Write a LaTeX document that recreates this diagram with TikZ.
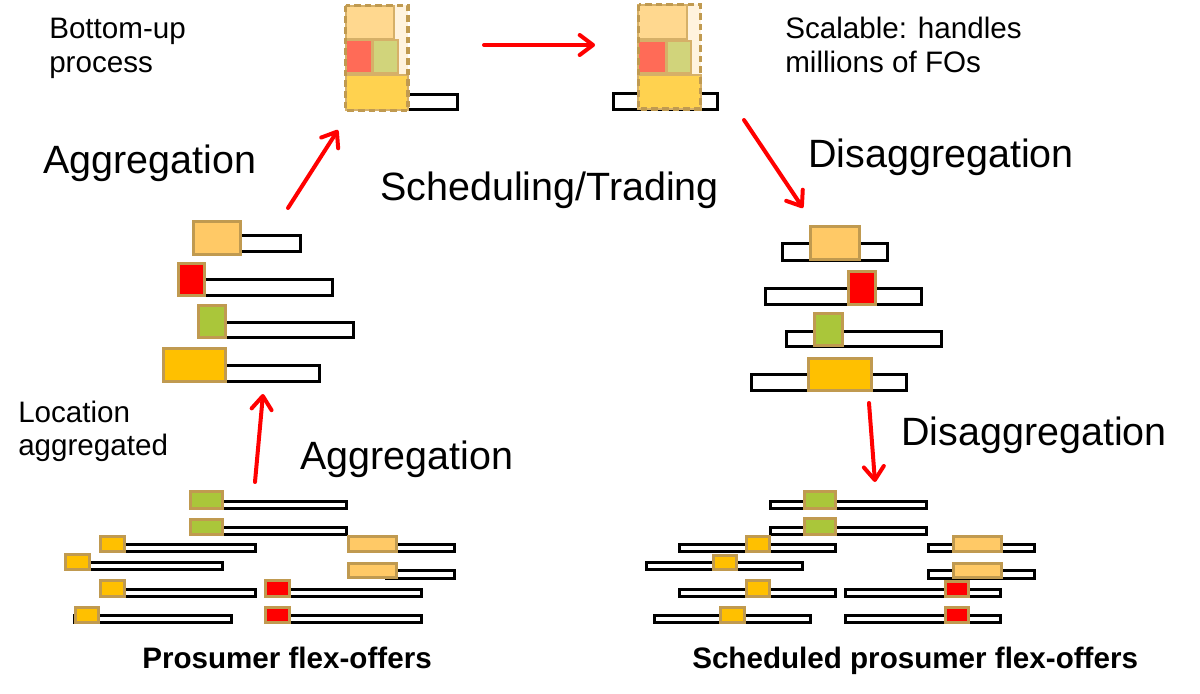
\documentclass[tikz,border=0pt]{standalone}
\usepackage{fontspec}
\setmainfont{Liberation Sans}
\usetikzlibrary{arrows.meta}
\definecolor{tanc}{RGB}{192,154,80}
\definecolor{tanl}{RGB}{214,176,104}
\definecolor{lorange}{RGB}{255,201,102}
\definecolor{fored}{RGB}{255,0,0}
\definecolor{fogreen}{RGB}{170,198,58}
\definecolor{amber}{RGB}{255,192,0}
\definecolor{tlorange}{RGB}{255,216,143}
\definecolor{tcream}{RGB}{255,243,222}
\definecolor{tred}{RGB}{255,107,87}
\definecolor{tgreen}{RGB}{209,212,123}
\definecolor{tamber}{RGB}{255,210,79}
\newcommand\fobar[4]{\draw[barst] (#1+1.6,#2+1.6) rectangle (#3-1.6,#4-1.6);}
\newcommand\fobox[5]{\draw[fost,fill=#5] (#1+1.6,#2+1.6) rectangle (#3-1.6,#4-1.6);}
\newcommand\tbox[5]{\draw[tst,fill=#5] (#1+1,#2+1) rectangle (#3-1,#4-1);}
\begin{document}
\begin{tikzpicture}[x=0.75pt,y=-0.75pt,
  barst/.style={draw=black,line width=2.5pt,fill=white},
  fost/.style={draw=tanc,line width=2.5pt},
  tst/.style={draw=tanl,line width=1.8pt},
  dashbox/.style={draw=tanc,line width=2.5pt,dash pattern=on 5pt off 3pt},
  flow/.style={draw=fored,line width=3pt,line cap=round,-{Straight Barb[length=10pt,width=15pt,round]}},
  big/.style={font=\fontsize{29.6}{34}\selectfont,anchor=base west,inner sep=0pt},
  small/.style={font=\fontsize{22.2}{26}\selectfont,anchor=base west,inner sep=0pt},
  boldlab/.style={font=\fontsize{22.2}{26}\selectfont\bfseries,anchor=base west,inner sep=0pt}]
\useasboundingbox (0,0) rectangle (1200,693);

% ---------- middle left ----------
\fobar{232}{234}{302}{253}
\fobox{192}{220}{242}{256}{lorange}
\fobar{195}{278}{334}{297}
\fobox{177}{262}{206}{297}{fored}
\fobar{217}{321}{355}{339}
\fobox{197}{304}{227}{339}{fogreen}
\fobar{216}{364}{321}{383}
\fobox{162}{347}{227}{383}{amber}

% ---------- middle right ----------
\fobar{781}{242}{889}{262}
\fobox{809}{225}{861}{261}{lorange}
\fobar{764}{287}{923}{306}
\fobox{847}{270}{877}{306}{fored}
\fobar{785}{330}{943}{348}
\fobox{813}{312}{844}{347}{fogreen}
\fobar{750}{373}{908}{392}
\fobox{807}{357}{873}{392}{amber}

% ---------- bottom left ----------
\fobar{210}{500}{348}{510}
\fobar{210}{526}{348}{536}
\fobar{115}{543}{257}{553}
\fobar{385}{543}{456}{553}
\fobar{80}{561}{224}{571}
\fobar{385}{569}{456}{580}
\fobar{115}{588}{257}{598}
\fobar{280}{588}{423}{598}
\fobar{73}{614}{233}{624}
\fobar{280}{614}{423}{624}
\fobox{189}{490}{224}{510}{fogreen}
\fobox{189}{518}{224}{536}{fogreen}
\fobox{99}{535}{126}{553}{amber}
\fobox{347}{535}{398}{553}{lorange}
\fobox{64}{553}{91}{571}{amber}
\fobox{347}{562}{398}{579}{lorange}
\fobox{99}{579}{126}{598}{amber}
\fobox{264}{579}{291}{598}{fored}
\fobox{74}{606}{100}{624}{amber}
\fobox{264}{606}{291}{624}{fored}

% ---------- bottom right ----------
\fobar{769}{500}{928}{510}
\fobar{769}{526}{928}{536}
\fobar{678}{543}{837}{553}
\fobar{927}{543}{1036}{553}
\fobar{645}{561}{804}{571}
\fobar{927}{569}{1036}{580}
\fobar{678}{588}{837}{598}
\fobar{844}{588}{1002}{598}
\fobar{653}{614}{812}{624}
\fobar{844}{614}{1002}{624}
\fobox{803}{490}{837}{510}{fogreen}
\fobox{803}{517}{837}{536}{fogreen}
\fobox{745}{535}{771}{553}{amber}
\fobox{952}{535}{1003}{553}{lorange}
\fobox{712}{554}{738}{571}{amber}
\fobox{745}{579}{771}{598}{amber}
\fobox{944}{580}{970}{598}{fored}
\fobox{952}{562}{1003}{579}{lorange}
\fobox{719}{606}{746}{624}{amber}
\fobox{944}{606}{970}{624}{fored}

% ---------- top left aggregate ----------
\fobar{400}{93}{459}{111}
\fill[tcream] (345,5) rectangle (408,110);
\tbox{345}{5}{395}{40}{tlorange}
\tbox{345}{39}{373}{74}{tred}
\tbox{372}{39}{399}{74}{tgreen}
\tbox{345}{74}{409}{111}{tamber}
\draw[dashbox] (345.5,5.5) rectangle (408,110.5);

% ---------- top right aggregate ----------
\fobar{612}{92}{719}{111}
\fill[tcream] (638,4) rectangle (701,109);
\tbox{637}{4}{688}{40}{tlorange}
\tbox{637}{40}{667}{74}{tred}
\tbox{666}{40}{692}{74}{tgreen}
\tbox{637}{74}{702}{110}{tamber}
\draw[dashbox] (638.5,4.5) rectangle (700.5,109);

% ---------- arrows ----------
\coordinate (a1s) at (288,208); \coordinate (a1e) at (338,130);
\coordinate (a2s) at (484,45);  \coordinate (a2e) at (595,45);
\coordinate (a3s) at (744,120); \coordinate (a3e) at (803,208);
\coordinate (a4s) at (255,482); \coordinate (a4e) at (263,394);
\coordinate (a5s) at (869,403); \coordinate (a5e) at (875,482);
\draw[flow] (a1s) -- (a1e);
\draw[flow] (a2s) -- (a2e);
\draw[flow] (a3s) -- (a3e);
\draw[flow] (a4s) -- (a4e);
\draw[flow] (a5s) -- (a5e);

% ---------- texts ----------
\node[small] (bu1) at (49,38) {Bottom-up};
\node[small] (bu2) at (49,72) {process};
\node[small] (sc1) at (785,38) {Scalable: handles};
\node[small] (sc2) at (785,72) {millions of FOs};
\node[small] (lo1) at (18,422) {Location};
\node[small] (lo2) at (18,455) {aggregated};
\node[big] (ag1) at (43,173) {Aggregation};
\node[big] (st) at (380,200) {Scheduling/Trading};
\node[big] (di1) at (808,167) {Disaggregation};
\node[big] (di2) at (901,445) {Disaggregation};
\node[big] (ag2) at (300,469) {Aggregation};
\node[boldlab] (pf) at (142,668) {Prosumer flex-offers};
\node[boldlab] (spf) at (692,668) {Scheduled prosumer flex-offers};
\end{tikzpicture}
\end{document}
